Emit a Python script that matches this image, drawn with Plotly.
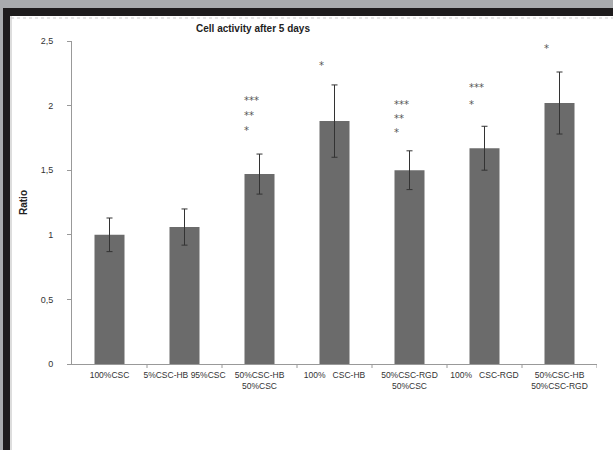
import plotly.graph_objects as go

categories = ["100%CSC", "5%CSC-HB 95%CSC", "50%CSC-HB<br>50%CSC", "100%   CSC-HB",
              "50%CSC-RGD<br>50%CSC", "100%   CSC-RGD", "50%CSC-HB<br>50%CSC-RGD"]
values = [1.00, 1.06, 1.47, 1.88, 1.50, 1.67, 2.02]
errors = [0.13, 0.14, 0.155, 0.28, 0.15, 0.17, 0.24]
# significance marks: (category index, y value, text)
stars = [(2, 2.04, "***"), (2, 1.92, "**"), (2, 1.81, "*"),
         (3, 2.31, "*"),
         (4, 2.01, "***"), (4, 1.90, "**"), (4, 1.79, "*"),
         (5, 2.14, "***"), (5, 2.01, "*"),
         (6, 2.44, "*")]
yticks = [0, 0.5, 1, 1.5, 2, 2.5]
yticklabels = ["0", "0,5", "1", "1,5", "2", "2,5"]

W, H = 613, 450
L, R, T, B = 72, 16, 41, 86
pw, ph = W - L - R, H - T - B

def px(x):
    return (x - L) / pw

def py(y):
    return (H - B - y) / ph

fig = go.Figure()
fig.add_trace(go.Bar(
    x=list(range(len(categories))), y=values, width=0.4,
    marker=dict(color="#6b6b6b", line=dict(width=0)),
    error_y=dict(type="data", array=errors, color="#333333", thickness=1, width=3),
))

for i, yv, txt in stars:
    fig.add_annotation(x=i - 0.24, y=yv, text=txt, showarrow=False, xanchor="left",
                       yanchor="middle", font=dict(size=10, color="#555555", family="DejaVu Sans"))

shapes = [
    dict(type="rect", xref="paper", yref="paper", x0=px(0), x1=px(W), y0=py(0), y1=py(8),
         fillcolor="#a9abae", line=dict(width=0), layer="above"),
    dict(type="rect", xref="paper", yref="paper", x0=px(3), x1=px(W), y0=py(8), y1=py(16),
         fillcolor="#1e1c1d", line=dict(width=0), layer="above"),
    dict(type="rect", xref="paper", yref="paper", x0=px(0), x1=px(3), y0=py(0), y1=py(H),
         fillcolor="#a9abae", line=dict(width=0), layer="above"),
    dict(type="rect", xref="paper", yref="paper", x0=px(3), x1=px(10), y0=py(8), y1=py(H),
         fillcolor="#1e1c1d", line=dict(width=0), layer="above"),
    dict(type="line", xref="paper", yref="paper", x0=px(11), x1=px(11), y0=py(16), y1=py(H),
         line=dict(color="#bbbbbb", width=1), layer="above"),
    dict(type="line", xref="paper", yref="paper", x0=px(11), x1=px(W), y0=py(18), y1=py(18),
         line=dict(color="#cccccc", width=1, dash="dot"), layer="above"),
]

fig.update_layout(
    width=W, height=H,
    margin=dict(l=L, r=R, t=T, b=B),
    paper_bgcolor="white", plot_bgcolor="white",
    showlegend=False,
    shapes=shapes,
    title=dict(text="<b>Cell activity after 5 days</b>", x=253 / W, xanchor="center",
               y=1 - 28 / H, yanchor="middle",
               font=dict(size=10, color="#222222", family="Liberation Sans")),
    xaxis=dict(
        tickmode="array", tickvals=list(range(len(categories))), ticktext=categories,
        range=[-0.5, len(categories) - 0.5],
        showline=True, linecolor="#999999", linewidth=1,
        ticks="", showgrid=False, zeroline=False,
        ticklabelstandoff=3,
        tickfont=dict(size=8.5, color="#333333", family="Liberation Sans"),
    ),
    yaxis=dict(
        range=[0, 2.5], tickmode="array", tickvals=yticks, ticktext=yticklabels,
        showline=True, linecolor="#999999", linewidth=1,
        ticks="outside", ticklen=4, tickcolor="#999999",
        showgrid=False, zeroline=False,
        ticklabelstandoff=12,
        tickfont=dict(size=9, color="#333333", family="Liberation Sans"),
        title=dict(text="<b>Ratio</b>", standoff=11,
                   font=dict(size=10, color="#222222", family="Liberation Sans")),
    ),
)

# category boundary tick marks on x axis
for k in range(1, len(categories) + 1):
    xb = k - 0.5
    fig.add_shape(type="line", xref="x", yref="paper", x0=xb, x1=xb, y0=0, y1=-4 / ph,
                  line=dict(color="#999999", width=1))

fig.write_html("out.html", config={"displayModeBar": False},
               post_script="document.body.style.margin='0';")
